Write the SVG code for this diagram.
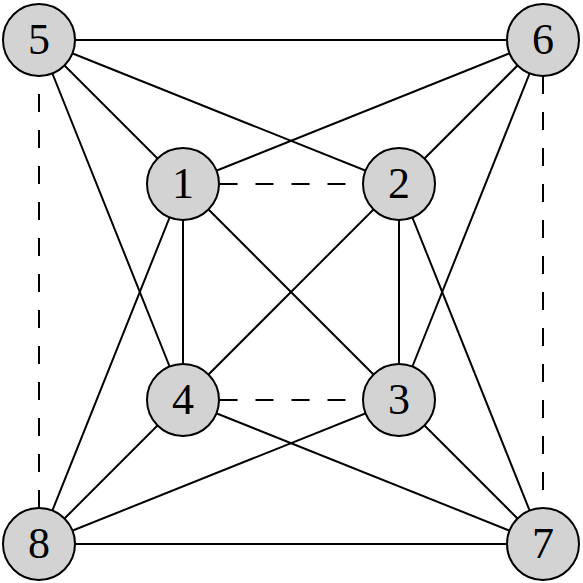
<svg xmlns="http://www.w3.org/2000/svg" width="583" height="583" viewBox="0 0 583 583">
<style>
.e{stroke:#000;stroke-width:2;fill:none}
.d{stroke:#000;stroke-width:2;fill:none;stroke-dasharray:18 18}
.n circle{fill:#d3d3d3;stroke:#000;stroke-width:2}
.n text{font-family:"Liberation Serif","DejaVu Serif",serif;font-size:44px;text-anchor:middle;fill:#000}
</style>
<rect width="583" height="583" fill="#fff"/>
<g id="connectors">
<line class="e" x1="39" y1="40" x2="543" y2="40"/>
<line class="e" x1="39" y1="544" x2="543" y2="544"/>
<line class="d" x1="39" y1="508" x2="39" y2="76"/>
<line class="d" x1="543" y1="76" x2="543" y2="508"/>
<line class="d" x1="219.5" y1="184" x2="363" y2="184"/>
<line class="d" x1="219.5" y1="400" x2="363" y2="400"/>
<line class="e" x1="183" y1="184" x2="183" y2="400"/>
<line class="e" x1="399" y1="184" x2="399" y2="400"/>
<line class="e" x1="183" y1="184" x2="399" y2="400"/>
<line class="e" x1="399" y1="184" x2="183" y2="400"/>
<line class="e" x1="39" y1="40" x2="183" y2="184"/>
<line class="e" x1="39" y1="40" x2="399" y2="184"/>
<line class="e" x1="39" y1="40" x2="183" y2="400"/>
<line class="e" x1="543" y1="40" x2="183" y2="184"/>
<line class="e" x1="543" y1="40" x2="399" y2="184"/>
<line class="e" x1="543" y1="40" x2="399" y2="400"/>
<line class="e" x1="543" y1="544" x2="399" y2="184"/>
<line class="e" x1="543" y1="544" x2="399" y2="400"/>
<line class="e" x1="543" y1="544" x2="183" y2="400"/>
<line class="e" x1="39" y1="544" x2="183" y2="184"/>
<line class="e" x1="39" y1="544" x2="399" y2="400"/>
<line class="e" x1="39" y1="544" x2="183" y2="400"/>
</g>
<g id="node5" class="n"><circle cx="39" cy="40" r="36"/><text x="39" y="54">5</text></g>
<g id="node6" class="n"><circle cx="543" cy="40" r="36"/><text x="543" y="54">6</text></g>
<g id="node7" class="n"><circle cx="543" cy="544" r="36"/><text x="543" y="558">7</text></g>
<g id="node8" class="n"><circle cx="39" cy="544" r="36"/><text x="39" y="558">8</text></g>
<g id="node1" class="n"><circle cx="183" cy="184" r="36"/><text x="183" y="198">1</text></g>
<g id="node2" class="n"><circle cx="399" cy="184" r="36"/><text x="399" y="198">2</text></g>
<g id="node3" class="n"><circle cx="399" cy="400" r="36"/><text x="399" y="414">3</text></g>
<g id="node4" class="n"><circle cx="183" cy="400" r="36"/><text x="183" y="414">4</text></g>
</svg>
